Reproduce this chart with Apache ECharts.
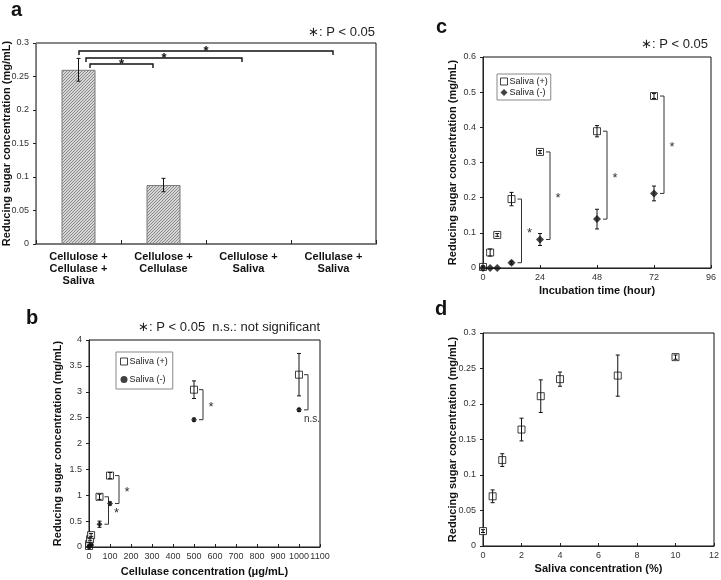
<!DOCTYPE html>
<html><head><meta charset="utf-8">
<script src="https://cdn.jsdelivr.net/npm/echarts@6/dist/echarts.min.js"></script>
<style>html,body{margin:0;padding:0;background:#fff}#c{width:721px;height:580px}</style>
</head><body><div id="c"></div>
<script>
// Panel a: bar chart
const categoriesA = ['Cellulose +\nCellulase +\nSaliva', 'Cellulose +\nCellulase', 'Cellulose +\nSaliva', 'Cellulase +\nSaliva'];
const valuesA = [0.260, 0.088, 0, 0];
const errorsA = [0.017, 0.010, 0, 0];
const sigPairsA = [[0, 1], [0, 2], [0, 3]];

// Panel c: incubation time
const timeC = [0, 3, 6, 12, 24, 48, 72];
const plusC = [0.003, 0.044, 0.094, 0.196, 0.330, 0.389, 0.489];
const plusErrC = [0.003, 0.010, 0.004, 0.019, 0.004, 0.016, 0.007];
const minusC = [0, 0, 0, 0.015, 0.081, 0.139, 0.212];
const minusErrC = [0, 0, 0, 0.004, 0.017, 0.028, 0.021];
const sigC = [12, 24, 48, 72];
const sigLabelsC = ['*', '*', '*', '*'];

// Panel b: cellulase concentration
const concB = [0, 1, 5, 10, 50, 100, 500, 1000];
const plusB = [0.02, 0.06, 0.15, 0.23, 0.97, 1.38, 3.04, 3.33];
const plusErrB = [0.02, 0.03, 0.03, 0.03, 0.05, 0.06, 0.17, 0.41];
const minusB = [0, 0.01, 0.02, 0.04, 0.44, 0.84, 2.46, 2.65];
const minusErrB = [0, 0, 0, 0.01, 0.06, 0.03, 0.03, 0.03];
const sigB = [50, 100, 500, 1000];
const sigLabelsB = ['*', '*', '*', 'n.s.'];

// Panel d: saliva concentration
const concD = [0, 0.5, 1, 2, 3, 4, 7, 10];
const valuesD = [0.021, 0.070, 0.121, 0.164, 0.211, 0.235, 0.240, 0.266];
const errD = [0.002, 0.009, 0.009, 0.016, 0.023, 0.010, 0.029, 0.003];

const FONT = 'Liberation Sans, Arial, sans-serif';
const YNAME = 'Reducing sugar concentration (mg/mL)';

function hatch() {
  const c = document.createElement('canvas');
  c.width = 3; c.height = 3;
  const g = c.getContext('2d');
  g.fillStyle = '#d6d6d6'; g.fillRect(0, 0, 3, 3);
  g.fillStyle = '#8a8a8a';
  for (let i = 0; i < 3; i++) g.fillRect(i, 2 - i, 1, 1);
  return c;
}

function errRender(params, api) {
  const x = api.value(0), y = api.value(1), e = api.value(2);
  if (!e) return null;
  const t = api.coord([x, y + e]), b = api.coord([x, y - e]);
  const w = 2;
  const st = { stroke: '#111', lineWidth: 1 };
  return { type: 'group', children: [
    { type: 'line', shape: { x1: t[0], y1: t[1], x2: b[0], y2: b[1] }, style: st },
    { type: 'line', shape: { x1: t[0] - w, y1: t[1], x2: t[0] + w, y2: t[1] }, style: st },
    { type: 'line', shape: { x1: b[0] - w, y1: b[1], x2: b[0] + w, y2: b[1] }, style: st }
  ] };
}

function errData(xs, ys, es) { return xs.map((x, i) => [x, ys[i], es[i]]); }
function ptData(xs, ys) { return xs.map((x, i) => [x, ys[i]]); }

function sigData(sig, labels, xs, top, bot) {
  return sig.map((x, k) => { const i = xs.indexOf(x); return [x, top[i], bot[i], labels[k]]; });
}
function makeSigRender(stub, vert) {
  return function (params, api) {
    const x = api.value(0);
    const p1 = api.coord([x, api.value(1)]), p2 = api.coord([x, api.value(2)]);
    const lab = api.value(3);
    const xs = p1[0] + stub, xv = p1[0] + vert;
    const children = [{ type: 'polyline', shape: { points: [[xs, p1[1]], [xv, p1[1]], [xv, p2[1]], [xs, p2[1]]] },
      style: { stroke: '#333', lineWidth: 1, fill: null } }];
    if (lab === 'n.s.') {
      children.push({ type: 'text', style: { x: xv - 4, y: p2[1] + 4, text: 'n.s.', fill: '#333', font: '10px ' + FONT, textAlign: 'left', textVerticalAlign: 'top' } });
    } else {
      children.push({ type: 'text', style: { x: xv + 8, y: (p1[1] + p2[1]) / 2 + 3, text: '*', fill: '#333', font: '13px ' + FONT, textAlign: 'center', textVerticalAlign: 'middle' } });
    }
    return { type: 'group', children };
  };
}

function sigARender(params, api) {
  const k = params.dataIndex;
  const a = api.coord([api.value(0), 0.3]);
  const b = api.coord([api.value(1), 0.3]);
  const lineOff = [21, 15, 8][k];
  const lOff = [11.5, 7.5, 0.5][k];
  const rOff = [-10.5, -6.5, -0.5][k];
  const y = a[1] + lineOff;
  const xl = a[0] + lOff, xr = b[0] + rOff;
  return { type: 'group', children: [
    { type: 'polyline', shape: { points: [[xl, y + 4], [xl, y], [xr, y], [xr, y + 4]] }, style: { stroke: '#111', lineWidth: 1.4, fill: null } },
    { type: 'text', style: { x: (xl + xr) / 2, y: y, text: '*', fill: '#111', font: 'bold 13px ' + FONT, textAlign: 'center', textVerticalAlign: 'middle' } }
  ] };
}

const tickLabel = { fontSize: 9, color: '#333', fontFamily: FONT };
const nameStyle = { fontSize: 11, fontWeight: 'bold', color: '#111', fontFamily: FONT };
const xNameStyle = { fontSize: 11, fontWeight: 'bold', color: '#111', fontFamily: FONT };
const axLine = { show: true, lineStyle: { color: '#222', width: 1 } };

function yAx(grid, max, interval, gap) {
  return { type: 'value', gridIndex: grid, min: 0, max, interval, splitLine: { show: false },
    axisLine: axLine, axisTick: { show: true, length: 3, lineStyle: { color: '#222' } },
    axisLabel: Object.assign({ margin: 7 }, tickLabel),
    name: YNAME, nameLocation: 'middle', nameGap: gap, nameMoveOverlap: false, nameTextStyle: nameStyle };
}
function xAx(grid, max, interval, name, gap) {
  return { type: 'value', gridIndex: grid, min: 0, max, interval, splitLine: { show: false },
    axisLine: axLine, axisTick: { show: true, inside: true, length: 3, lineStyle: { color: '#222' } },
    axisLabel: Object.assign({ margin: 5, formatter: v => String(v) }, tickLabel),
    name, nameLocation: 'middle', nameGap: gap, nameMoveOverlap: false, nameTextStyle: xNameStyle };
}

const plusStyle = { color: '#fff', borderColor: '#111', borderWidth: 1 };
const minusStyle = { color: '#111' };

const gridBase = { show: true, borderColor: '#111', borderWidth: 1, backgroundColor: 'transparent', containLabel: false, outerBoundsMode: 'none' };

const option = {
  animation: false,
  backgroundColor: '#fff',
  textStyle: { fontFamily: FONT },
  grid: [
    Object.assign({ left: 36, top: 43, width: 340, height: 201 }, gridBase),
    Object.assign({ left: 483, top: 57, width: 228, height: 211 }, gridBase),
    Object.assign({ left: 89, top: 340, width: 231, height: 207 }, gridBase),
    Object.assign({ left: 483, top: 333, width: 231, height: 213 }, gridBase)
  ],
  xAxis: [
    { type: 'category', gridIndex: 0, data: categoriesA, axisLine: { show: true, lineStyle: { color: '#7a7a7a', width: 2 } },
      axisTick: { show: true, inside: true, length: 4, lineStyle: { color: '#222' } },
      axisLabel: { interval: 0, margin: 7, fontSize: 11, fontWeight: 'bold', color: '#111', lineHeight: 12, fontFamily: FONT } },
    xAx(1, 96, 24, 'Incubation time (hour)', 17),
    xAx(2, 1100, 100, 'Cellulase concentration (\u03bcg/mL)', 19),
    xAx(3, 12, 2, 'Saliva concentration (%)', 17)
  ],
  yAxis: [
    Object.assign(yAx(0, 0.3, 0.05, 24), { axisLine: { show: true, lineStyle: { color: '#7a7a7a', width: 1 } } }),
    yAx(1, 0.6, 0.1, 25),
    yAx(2, 4, 0.5, 26),
    yAx(3, 0.3, 0.05, 25)
  ],
  legend: [
    { left: 497, top: 74, orient: 'vertical', itemGap: 2, itemWidth: 7, itemHeight: 7, padding: [3, 3, 3, 3],
      borderColor: '#888', borderWidth: 1, textStyle: { fontSize: 9, color: '#222', fontFamily: FONT, padding: [0, 0, 0, -3] },
      data: [{ name: 'Saliva (+)', icon: 'rect', itemStyle: plusStyle }, { name: 'Saliva (-)', icon: 'diamond', itemStyle: minusStyle }] },
    { left: 116, top: 352, orient: 'vertical', itemGap: 9, itemWidth: 7, itemHeight: 7, padding: [5, 5, 5, 4],
      borderColor: '#888', borderWidth: 1, textStyle: { fontSize: 9, color: '#222', fontFamily: FONT, padding: [0, 0, 0, -3] },
      data: [{ name: 'Saliva (+)', icon: 'rect', itemStyle: plusStyle }, { name: 'Saliva (-)', icon: 'circle', itemStyle: minusStyle }] }
  ],
  series: [
    // a
    { type: 'bar', xAxisIndex: 0, yAxisIndex: 0, data: valuesA, barWidth: '40%',
      itemStyle: { color: { image: hatch(), repeat: 'repeat' }, borderColor: '#7a7a7a', borderWidth: 1 } },
    { type: 'custom', xAxisIndex: 0, yAxisIndex: 0, renderItem: errRender, data: errData([0, 1, 2, 3], valuesA, errorsA), z: 5 },
    { type: 'custom', xAxisIndex: 0, yAxisIndex: 0, renderItem: sigARender, data: sigPairsA.map(p => [p[0], p[1]]), encode: { x: [0, 1] }, z: 5 },
    // c
    { name: 'Saliva (+)', type: 'scatter', xAxisIndex: 1, yAxisIndex: 1, symbol: 'rect', symbolSize: 7, itemStyle: plusStyle, data: ptData(timeC, plusC), z: 3 },
    { name: 'Saliva (-)', type: 'scatter', xAxisIndex: 1, yAxisIndex: 1, symbol: 'diamond', symbolSize: 8, itemStyle: minusStyle, data: ptData(timeC, minusC), z: 3 },
    { type: 'custom', xAxisIndex: 1, yAxisIndex: 1, renderItem: errRender, data: errData(timeC, plusC, plusErrC), z: 5 },
    { type: 'custom', xAxisIndex: 1, yAxisIndex: 1, renderItem: errRender, data: errData(timeC, minusC, minusErrC), z: 5 },
    { type: 'custom', xAxisIndex: 1, yAxisIndex: 1, renderItem: makeSigRender(6, 10), data: sigData(sigC, sigLabelsC, timeC, plusC, minusC),
      dimensions: ['x', 'y1', 'y2', { name: 'lab', type: 'ordinal' }], encode: { x: 0, y: [1, 2] }, z: 4 },
    // b
    { name: 'Saliva (+)', type: 'scatter', xAxisIndex: 2, yAxisIndex: 2, symbol: 'rect', symbolSize: 7, itemStyle: plusStyle, data: ptData(concB, plusB), z: 3 },
    { name: 'Saliva (-)', type: 'scatter', xAxisIndex: 2, yAxisIndex: 2, symbol: 'diamond', symbolSize: 6, itemStyle: minusStyle, data: ptData(concB, minusB), z: 3 },
    { type: 'custom', xAxisIndex: 2, yAxisIndex: 2, renderItem: errRender, data: errData(concB, plusB, plusErrB), z: 5 },
    { type: 'custom', xAxisIndex: 2, yAxisIndex: 2, renderItem: errRender, data: errData(concB, minusB, minusErrB), z: 5 },
    { type: 'custom', xAxisIndex: 2, yAxisIndex: 2, renderItem: makeSigRender(5, 9), data: sigData(sigB, sigLabelsB, concB, plusB, minusB),
      dimensions: ['x', 'y1', 'y2', { name: 'lab', type: 'ordinal' }], encode: { x: 0, y: [1, 2] }, z: 4 },
    // d
    { type: 'scatter', xAxisIndex: 3, yAxisIndex: 3, symbol: 'rect', symbolSize: 7, itemStyle: plusStyle, data: ptData(concD, valuesD), z: 3 },
    { type: 'custom', xAxisIndex: 3, yAxisIndex: 3, renderItem: errRender, data: errData(concD, valuesD, errD), z: 5 }
  ],
  graphic: [
    { type: 'text', left: 11, top: 0, style: { text: 'a', font: 'bold 20px ' + FONT, fill: '#111' } },
    { type: 'text', left: 436, top: 17, style: { text: 'c', font: 'bold 20px ' + FONT, fill: '#111' } },
    { type: 'text', left: 26, top: 308, style: { text: 'b', font: 'bold 20px ' + FONT, fill: '#111' } },
    { type: 'text', left: 435, top: 299, style: { text: 'd', font: 'bold 20px ' + FONT, fill: '#111' } },
    { type: 'text', right: 721 - 375, top: 26, style: { text: '\u2217: P < 0.05', font: '13px ' + FONT, fill: '#222' } },
    { type: 'text', right: 721 - 708, top: 38, style: { text: '\u2217: P < 0.05', font: '13px ' + FONT, fill: '#222' } },
    { type: 'text', right: 721 - 320, top: 321, style: { text: '\u2217: P < 0.05  n.s.: not significant', font: '13px ' + FONT, fill: '#222' } }
  ]
};

const chart = echarts.init(document.getElementById('c'), null, { renderer: 'canvas' });
chart.setOption(option);
</script></body></html>
